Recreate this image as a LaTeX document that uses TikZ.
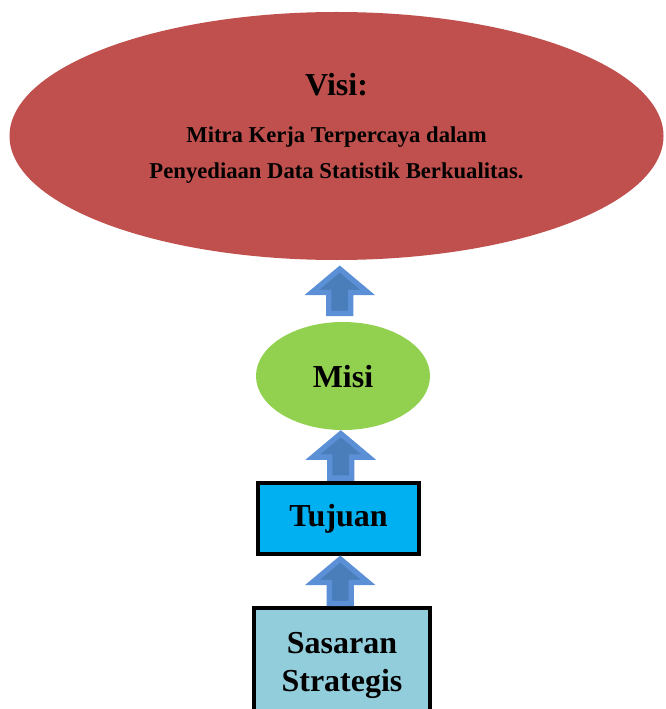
\documentclass[tikz,border=0pt]{standalone}
\usepackage{fontspec}
\setmainfont{Liberation Serif}
\usetikzlibrary{positioning, calc, shapes.geometric}

\definecolor{visired}{HTML}{C0504D}
\definecolor{misigreen}{HTML}{92D050}
\definecolor{tujuanblue}{HTML}{00B0F0}
\definecolor{sasaranblue}{HTML}{92CDDC}
\definecolor{arrowedge}{HTML}{5B8FD6}
\definecolor{arrowfill}{HTML}{4A7EBB}

\begin{document}
\begin{tikzpicture}[
    x=0.75pt, y=-0.75pt,
    visistyle/.style={
        ellipse,
        fill=visired,
        inner sep=0pt,
        minimum width=490.5pt,
        minimum height=186pt,
        align=center,
        font=\bfseries\fontsize{17}{27}\selectfont
    },
    misistyle/.style={
        ellipse,
        fill=misigreen,
        inner sep=0pt,
        minimum width=130.5pt,
        minimum height=81pt
    },
    boxstyle/.style={
        draw=black,
        line width=3pt,
        inner sep=0pt,
        align=center
    },
    blockarrow/.style={
        draw=arrowedge,
        fill=arrowfill,
        line width=4pt
    },
    font=\bfseries\fontsize{24}{28.5}\selectfont
]

% Page frame
\useasboundingbox (0,0) rectangle (665,709);
\clip (0,0) rectangle (665,709);

% Arrow geometry (pixels)
\def\hw{28}     % half head width
\def\sw{11}     % half shaft width
\def\tip{22}    % tip above middle
\def\hb{1.5}    % head base below middle
\def\bot{22.5}  % shaft bottom below middle

% Macro: block arrow pointing up from #1 to #2
\newcommand{\blockarrow}[2]{%
  \coordinate (m) at ($(#1.north)!0.5!(#2.south)$);
  \draw[blockarrow] ($(m)+(0,-\tip)$) -- ($(m)+(\hw,\hb)$) -- ($(m)+(\sw,\hb)$)
      -- ($(m)+(\sw,\bot)$) -- ($(m)+(-\sw,\bot)$) -- ($(m)+(-\sw,\hb)$)
      -- ($(m)+(-\hw,\hb)$) -- cycle;
}

% Nodes
\node[visistyle] (visi) at (336.5,136) {\raisebox{0pt}[33pt][0pt]{\fontsize{24}{27}\selectfont Visi:}\\[8pt]
    Mitra Kerja Terpercaya dalam\\
    Penyediaan Data Statistik Berkualitas.\\[4pt]};
\node[misistyle, text depth=0pt] (misi) at (343,376) {Misi};
\node[boxstyle, fill=tujuanblue, minimum width=120.75pt, minimum height=53.25pt]
    (tujuan) at (338.5,518.5) {Tujuan};
\node[boxstyle, fill=sasaranblue, minimum width=132pt, minimum height=85.5pt]
    (sasaran) at (342,665) {Sasaran\\Strategis};

% Arrows
\blockarrow{misi}{visi}
\blockarrow{tujuan}{misi}
\blockarrow{sasaran}{tujuan}

\end{tikzpicture}
\end{document}
